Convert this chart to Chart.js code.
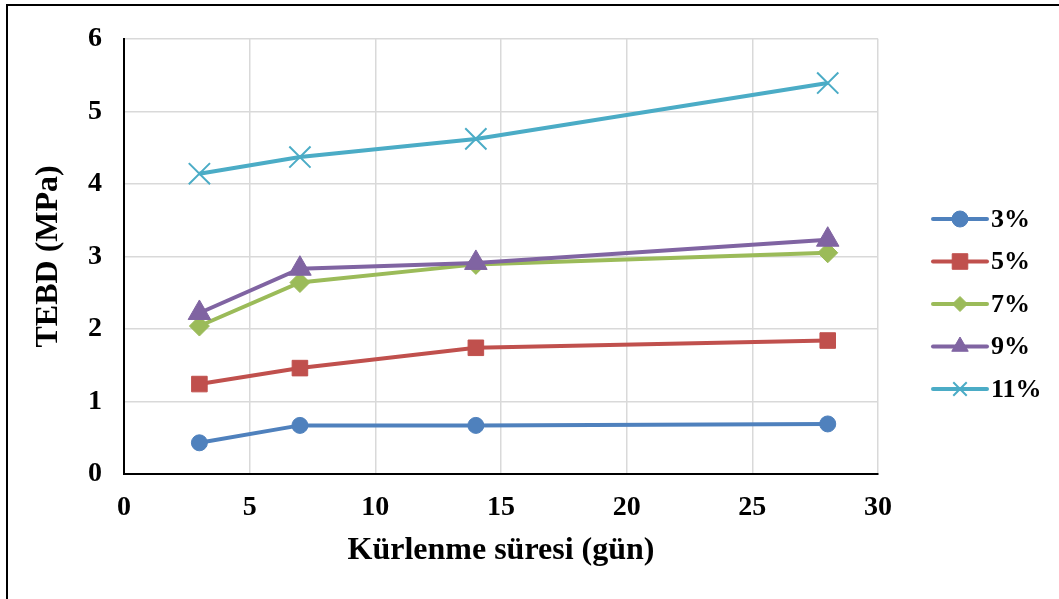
<!DOCTYPE html>
<html>
<head>
<meta charset="utf-8">
<script src="https://cdn.jsdelivr.net/npm/chart.js@4/dist/chart.umd.min.js"></script>
<style>
  html, body { margin: 0; padding: 0; background: #ffffff; }
  #wrap { width: 1059px; height: 599px; }
</style>
</head>
<body>
<div id="wrap"><canvas id="c" width="1059" height="599"></canvas></div>
<script>
// Curing time (days) on the x axis
const days = [3, 7, 14, 28];

// TEBD (MPa) for each additive ratio
const s3  = [0.43, 0.67, 0.67, 0.69];
const s5  = [1.24, 1.46, 1.74, 1.84];
const s7  = [2.04, 2.64, 2.89, 3.05];
const s9  = [2.22, 2.83, 2.91, 3.23];
const s11 = [4.14, 4.37, 4.62, 5.39];

const seriesLabels = ['3%', '5%', '7%', '9%', '11%'];
const seriesValues = [s3, s5, s7, s9, s11];

const xTicks = [0, 5, 10, 15, 20, 25, 30];
const yTicks = [0, 1, 2, 3, 4, 5, 6];

const xTitle = 'Kürlenme süresi (gün)';
const yTitle = 'TEBD (MPa)';

const colors = ['#4F81BD', '#C0504D', '#9BBB59', '#8064A2', '#4BACC6'];
const styles = ['circle', 'rect', 'rectRot', 'triangle', 'crossRot'];
const radii = [8, 11, 10, 13, 15];
const legendRadii = [8, 11, 7.5, 9.5, 9.5];

const FONT = "'Liberation Serif', 'Times New Roman', serif";

const datasets = seriesValues.map((vals, i) => ({
  label: seriesLabels[i],
  data: days.map((d, k) => ({ x: d, y: vals[k] })),
  borderColor: colors[i],
  backgroundColor: colors[i],
  borderWidth: 4,
  tension: 0,
  pointStyle: styles[i],
  pointRadius: radii[i],
  pointHoverRadius: radii[i],
  pointBackgroundColor: colors[i],
  pointBorderColor: colors[i],
  pointBorderWidth: styles[i] === 'crossRot' ? 2 : 1,
  order: seriesValues.length - i
}));

// Outer frame around the whole figure
const framePlugin = {
  id: 'frame',
  beforeDraw(chart) {
    const ctx = chart.ctx;
    ctx.save();
    ctx.fillStyle = '#ffffff';
    ctx.fillRect(0, 0, chart.width, chart.height);
    ctx.strokeStyle = '#000000';
    ctx.lineWidth = 2;
    ctx.strokeRect(7, 5, chart.width + 20, chart.height + 20);
    ctx.restore();
  }
};

// Legend on the right: line sample with marker, then the label
const legendPlugin = {
  id: 'sideLegend',
  afterDraw(chart) {
    const ctx = chart.ctx;
    const x0 = 933, x1 = 987, xm = 960, xt = 991;
    const yStart = 219, step = 42.5;
    ctx.save();
    chart.data.datasets.forEach((ds, i) => {
      const y = yStart + i * step;
      ctx.strokeStyle = ds.borderColor;
      ctx.lineWidth = 4;
      ctx.lineCap = 'round';
      ctx.beginPath();
      ctx.moveTo(x0, y);
      ctx.lineTo(x1, y);
      ctx.stroke();
      ctx.lineCap = 'butt';
      ctx.fillStyle = ds.borderColor;
      ctx.lineWidth = ds.pointStyle === 'crossRot' ? 2 : 1;
      Chart.helpers.drawPoint(ctx, {
        pointStyle: ds.pointStyle,
        radius: legendRadii[i],
        rotation: 0,
        borderWidth: ctx.lineWidth
      }, xm, y);
      ctx.fillStyle = '#000000';
      ctx.font = 'bold 26px ' + FONT;
      ctx.textBaseline = 'middle';
      ctx.textAlign = 'left';
      ctx.fillText(ds.label, xt, y + 1);
    });
    ctx.restore();
  }
};

new Chart(document.getElementById('c'), {
  type: 'line',
  data: { datasets },
  options: {
    responsive: false,
    animation: false,
    devicePixelRatio: 1,
    layout: { padding: { left: 0, top: 35, right: 181, bottom: 0 } },
    plugins: {
      legend: { display: false },
      tooltip: { enabled: false }
    },
    scales: {
      x: {
        type: 'linear',
        min: 0,
        max: 30,
        afterFit(scale) { scale.height = 125; },
        afterBuildTicks(scale) { scale.ticks = xTicks.map(v => ({ value: v })); },
        ticks: {
          color: '#000000',
          font: { family: FONT, size: 28, weight: 'bold' },
          padding: 17,
          maxRotation: 0
        },
        grid: { color: '#D9D9D9', lineWidth: 1.5, drawTicks: false },
        border: { color: '#000000', width: 2 },
        title: {
          display: true,
          text: xTitle,
          color: '#000000',
          font: { family: FONT, size: 32, weight: 'bold' },
          padding: { top: 0, bottom: 29 }
        }
      },
      y: {
        type: 'linear',
        min: 0,
        max: 6,
        afterFit(scale) { scale.width = 124; },
        afterBuildTicks(scale) { scale.ticks = yTicks.map(v => ({ value: v })); },
        ticks: {
          color: '#000000',
          font: { family: FONT, size: 28, weight: 'bold' },
          padding: 22
        },
        grid: { color: '#D9D9D9', lineWidth: 1.5, drawTicks: false },
        border: { color: '#000000', width: 2 },
        title: {
          display: true,
          text: yTitle,
          color: '#000000',
          font: { family: FONT, size: 32, weight: 'bold' },
          padding: { top: 30, bottom: 0 }
        }
      }
    }
  },
  plugins: [framePlugin, legendPlugin]
});
</script>
</body>
</html>
